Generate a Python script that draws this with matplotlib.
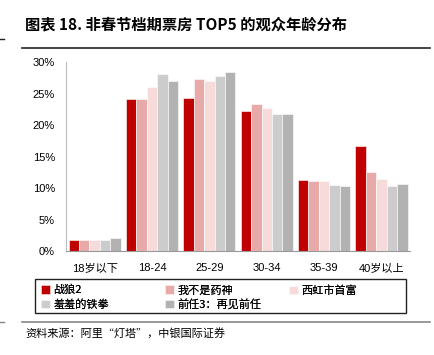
import matplotlib
matplotlib.use("Agg")
import matplotlib.pyplot as plt
import numpy as np
from matplotlib.lines import Line2D
from matplotlib.patches import Rectangle

plt.rcParams['font.family'] = ['Liberation Sans', 'Noto Sans CJK SC', 'DejaVu Sans']

# data
groups = ['18岁以下', '18-24', '25-29', '30-34', '35-39', '40岁以上']
films = ['战狼2', '我不是药神', '西虹市首富', '羞羞的铁拳', '前任3：再见前任']
zhanlang = [1.7, 24.1, 24.3, 22.2, 11.3, 16.7]
yaoshen = [1.7, 24.1, 27.3, 23.3, 11.1, 12.6]
xihong = [1.8, 26.0, 27.0, 22.7, 11.1, 11.5]
xiuxiu = [1.8, 28.1, 27.8, 21.8, 10.5, 10.3]
qianren = [2.0, 27.0, 28.5, 21.8, 10.3, 10.7]
colors = ['#C00000', '#E8A9A9', '#F7DADA', '#CCCCCC', '#B2B2B2']

series = [zhanlang, yaoshen, xihong, xiuxiu, qianren]

fig = plt.figure(figsize=(4.34, 3.55), dpi=100)
ax = fig.add_axes([0.152, 0.293, 0.793, 0.532])

x = np.arange(len(groups))
w = 0.182
bars = []
for i, vals in enumerate(series):
    b = ax.bar(x + (i - 2) * w, vals, w, color=colors[i], edgecolor='white', linewidth=0.4, label=films[i])
    bars.append(b)

ax.set_xlim(-0.5, 5.5)
ax.set_ylim(0, 30)
ax.set_yticks(range(0, 31, 5))
ax.set_yticklabels([f'{v}%' for v in range(0, 31, 5)], fontsize=8)
ax.set_xticks(x)
ax.set_xticklabels(groups, fontsize=8)
ax.tick_params(axis='x', length=0, pad=9)
ax.tick_params(axis='y', length=0, pad=8)
for s in ['top', 'right']:
    ax.spines[s].set_visible(False)
ax.spines['left'].set_color('#BBBBBB')
ax.spines['bottom'].set_color('#999999')

cjk = ['Noto Sans CJK SC', 'DejaVu Sans']

# title and rules
fig.text(0.058, 0.93, '图表 18. 非春节档期票房 TOP5 的观众年龄分布', fontsize=11, fontweight='bold',
         va='center', ha='left', family=cjk)
fig.add_artist(Line2D([0.051, 0.99], [0.866, 0.866], color='#222222', lw=1.2))
fig.add_artist(Line2D([0.0, 0.01], [0.89, 0.89], color='#222222', lw=1.0))
fig.add_artist(Line2D([0.051, 0.99], [0.093, 0.093], color='#888888', lw=1.2))
fig.add_artist(Line2D([0.0, 0.01], [0.093, 0.093], color='#888888', lw=1.0))

# legend: frame plus three single-column legends
fig.add_artist(Rectangle((0.081, 0.118), 0.854, 0.096, transform=fig.transFigure,
                         fill=False, edgecolor='#222222', lw=1.0))
cols = [[0, 3], [1, 4], [2]]
xpos = [0.095, 0.381, 0.667]
for idx, xp in zip(cols, xpos):
    lg = fig.legend([bars[i] for i in idx], [films[i] for i in idx], loc='upper left',
                    bbox_to_anchor=(xp, 0.197), frameon=False, handlelength=0.8, handleheight=0.8,
                    handletextpad=0.3, borderaxespad=0, borderpad=0, labelspacing=0.35,
                    prop={'family': cjk, 'size': 8})
    fig.add_artist(lg)

fig.text(0.058, 0.062, '资料来源：阿里“灯塔”，中银国际证券', fontsize=8, style='italic',
         va='center', ha='left', family=cjk)

fig.savefig('out.png', dpi=100)
